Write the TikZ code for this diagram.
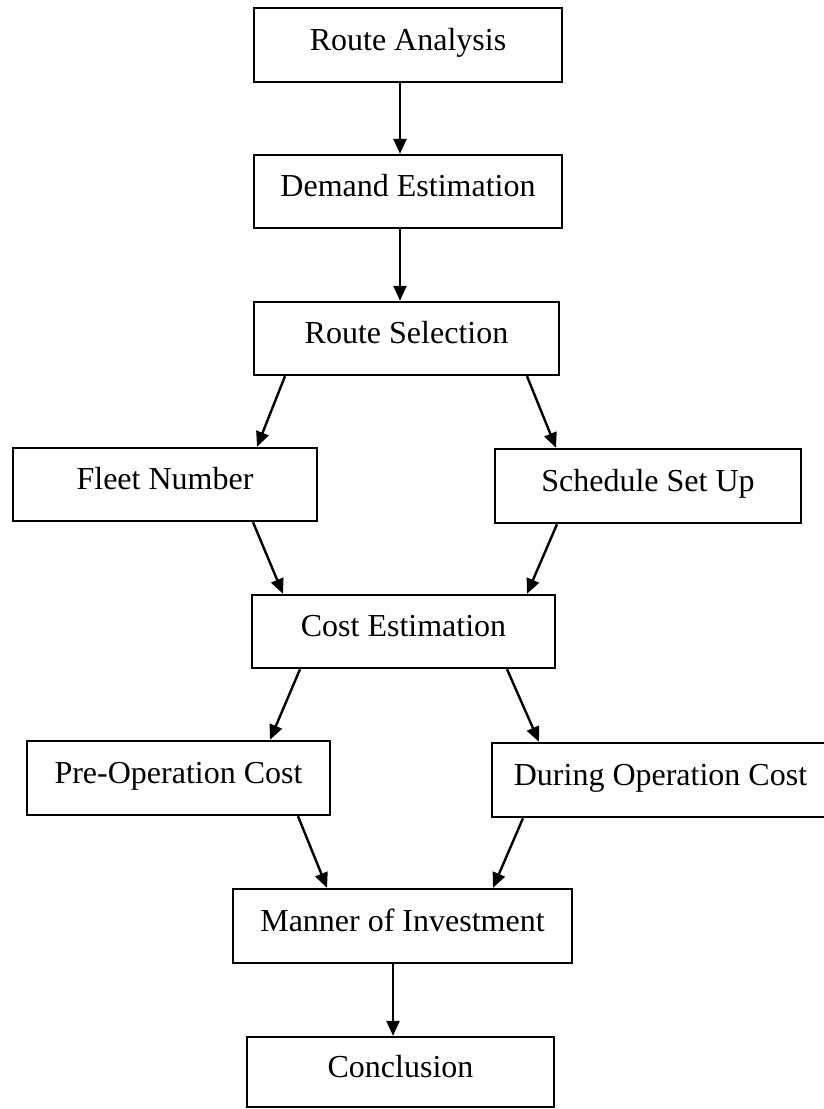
\documentclass[tikz,border=0pt]{standalone}
\usepackage{fontspec}
\setmainfont{Liberation Serif}
\usetikzlibrary{arrows.meta}
\tikzset{
  stepbox/.style={draw=black, line width=2.4pt, fill=white, inner sep=0pt,
    text height=22pt, text depth=12pt, align=center,
    font=\fontsize{32}{36}\selectfont},
  flowarrow/.style={draw=black, line width=2.4pt, -{Triangle[length=15pt,width=13pt]}}
}
\begin{document}
\begin{tikzpicture}[x=1pt,y=-1pt]
\useasboundingbox (0,0) rectangle (824,1109);
\fill[white] (0,0) rectangle (824,1109);
\node[stepbox, minimum width=308pt, minimum height=74pt] (RA) at (408,45) {Route Analysis};
\node[stepbox, minimum width=308pt, minimum height=73pt] (DE) at (408,191.5) {Demand Estimation};
\node[stepbox, minimum width=305pt, minimum height=73pt] (RS) at (406.5,338.5) {Route Selection};
\node[stepbox, minimum width=304pt, minimum height=73pt] (FN) at (165,484.5) {Fleet Number};
\node[stepbox, minimum width=306pt, minimum height=74pt] (SS) at (648,486) {Schedule Set Up};
\node[stepbox, minimum width=303pt, minimum height=73pt] (CE) at (403.5,631.5) {Cost Estimation};
\node[stepbox, minimum width=303pt, minimum height=74pt] (PO) at (178.5,778) {Pre-Operation Cost};
\node[stepbox, minimum width=337pt, minimum height=74pt] (DO) at (660.5,780) {During Operation Cost};
\node[stepbox, minimum width=339pt, minimum height=74pt] (MI) at (402.5,926) {Manner of Investment};
\node[stepbox, minimum width=307pt, minimum height=70pt] (CO) at (400.5,1072) {Conclusion};

\draw[flowarrow] ([xshift=-8pt]RA.south) -- ([xshift=-8pt]DE.north);
\draw[flowarrow] ([xshift=-8pt]DE.south) -- ([xshift=-6.5pt]RS.north);
\draw[flowarrow] ([xshift=-121.5pt]RS.south) -- ([xshift=92pt]FN.north);
\draw[flowarrow] ([xshift=120.5pt]RS.south) -- ([xshift=-92pt]SS.north);
\draw[flowarrow] ([xshift=88pt]FN.south) -- ([xshift=-120.5pt]CE.north);
\draw[flowarrow] ([xshift=-91pt]SS.south) -- ([xshift=123.5pt]CE.north);
\draw[flowarrow] ([xshift=-103.5pt]CE.south) -- ([xshift=91.5pt]PO.north);
\draw[flowarrow] ([xshift=103.5pt]CE.south) -- ([xshift=-121.5pt]DO.north);
\draw[flowarrow] ([xshift=119.5pt]PO.south) -- ([xshift=-75.5pt]MI.north);
\draw[flowarrow] ([xshift=-137.5pt]DO.south) -- ([xshift=90.5pt]MI.north);
\draw[flowarrow] ([xshift=-9.5pt]MI.south) -- ([xshift=-7.5pt]CO.north);
\end{tikzpicture}
\end{document}
